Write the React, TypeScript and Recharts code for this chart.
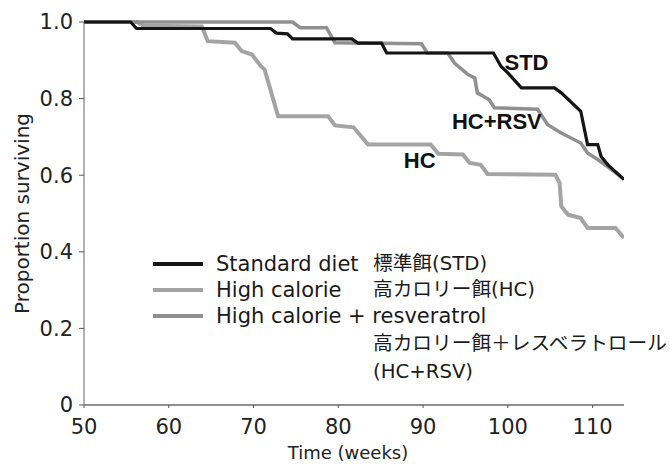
import React from 'react'
import { LineChart, Line, XAxis, YAxis, Legend, ReferenceDot, Label } from 'recharts'

// Kaplan-Meier curves: [week, proportion surviving]
const stdCurve: [number, number][] = [
  [50, 1.0], [55.5, 1.0], [56.2, 0.983], [72.0, 0.983], [72.7, 0.971], [74.0, 0.969],
  [74.6, 0.956], [81.6, 0.956], [82.3, 0.945], [85.1, 0.945], [85.7, 0.919], [98.3, 0.919],
  [99.2, 0.884], [100.0, 0.867], [101.6, 0.828], [105.5, 0.828], [106.3, 0.815],
  [108.6, 0.767], [109.4, 0.68], [110.6, 0.68], [111.0, 0.649], [111.8, 0.627], [113.7, 0.589],
]
const hcCurve: [number, number][] = [
  [50, 1.0], [56.3, 1.0], [57.0, 0.99], [63.9, 0.988], [64.6, 0.95], [67.8, 0.946],
  [68.6, 0.924], [69.8, 0.915], [70.9, 0.884], [71.3, 0.876], [72.1, 0.815], [72.9, 0.754],
  [78.8, 0.754], [79.6, 0.73], [81.8, 0.725], [83.5, 0.68], [90.9, 0.68], [91.8, 0.656],
  [94.7, 0.654], [95.5, 0.632], [96.8, 0.627], [97.6, 0.603], [105.6, 0.601], [106.1, 0.58],
  [106.3, 0.519], [107.1, 0.497], [108.6, 0.488], [109.4, 0.462], [112.7, 0.462], [113.7, 0.436],
]
const rsvCurve: [number, number][] = [
  [50, 1.0], [74.6, 1.0], [75.5, 0.985], [78.6, 0.985], [79.6, 0.946], [89.8, 0.943],
  [90.5, 0.919], [92.9, 0.919], [93.7, 0.893], [95.3, 0.863], [96.1, 0.854], [96.4, 0.815],
  [97.8, 0.797], [98.4, 0.776], [103.5, 0.772], [104.7, 0.732], [106.3, 0.71], [108.6, 0.684],
  [109.4, 0.658], [110.6, 0.641], [112.2, 0.615], [113.7, 0.589],
]

const weekTicks = [50, 60, 70, 80, 90, 100, 110]
const survivalTicks = [0, 0.2, 0.4, 0.6, 0.8, 1.0]

const legendNames = ['Standard diet', 'High calorie', 'High calorie + resveratrol']
const legendJapanese = ['標準餌(STD)', '高カロリー餌(HC)', '高カロリー餌＋レスベラトロール', '(HC+RSV)']
const legendColors = ['#151515', '#a4a4a4', '#909090']

// curve labels: [text, week, proportion]
const curveLabels: [string, number, number][] = [
  ['STD', 102.2, 0.895],
  ['HC+RSV', 98.7, 0.74],
  ['HC', 89.6, 0.638],
]

const toRows = (c: [number, number][]) => c.map(([w, p]) => ({ w, p }))

const latin = '"DejaVu Sans", sans-serif'
const mixed = '"DejaVu Sans", "Noto Sans CJK JP", sans-serif'

function LegendBox() {
  const rowTop = [1, 27, 53]
  return (
    <div style={{ position: 'relative', width: 520, height: 140, color: '#1a1a1a' }}>
      {legendNames.map((name, i) => (
        <React.Fragment key={name}>
          <div style={{ position: 'absolute', left: 3, top: rowTop[i] + 11, width: 50, height: 4, background: legendColors[i] }} />
          <div style={{ position: 'absolute', left: 66, top: rowTop[i], lineHeight: '26px', fontSize: 21, fontFamily: latin, whiteSpace: 'nowrap' }}>
            {name}
          </div>
        </React.Fragment>
      ))}
      {legendJapanese.map((t, i) => (
        <div key={t} style={{ position: 'absolute', left: 223, top: [1, 27, 81, 109][i], lineHeight: '26px', fontSize: 19.7, fontFamily: mixed, whiteSpace: 'nowrap' }}>
          {t}
        </div>
      ))}
    </div>
  )
}

export default function App() {
  return (
    <div style={{ position: 'absolute', left: 0, top: 0, background: '#fff' }}>
      <LineChart width={670} height={464} margin={{ top: 22, right: 46, bottom: 0, left: 0 }}>
        <XAxis
          dataKey="w" type="number" domain={[50, 113.7]} ticks={weekTicks} allowDataOverflow
          axisLine={{ stroke: '#222', strokeWidth: 1.2 }} tickLine={{ stroke: '#555' }} tickSize={3} tickMargin={11}
          height={59} tick={{ fill: '#222', fontSize: 21, fontFamily: latin }}
        >
          <Label
            content={({ viewBox }: any) => (
              <text x={viewBox.x + viewBox.width / 2 - 6} y={viewBox.y + 54} textAnchor="middle" fill="#222" fontSize={18} fontFamily={latin}>
                Time (weeks)
              </text>
            )}
          />
        </XAxis>
        <YAxis
          type="number" domain={[0, 1]} ticks={survivalTicks} width={84}
          tickFormatter={(v: number) => (v === 0 ? '0' : v.toFixed(1))}
          axisLine={{ stroke: '#666', strokeWidth: 1 }} tickLine={{ stroke: '#555' }} tickSize={5} tickMargin={6}
          tick={{ fill: '#222', fontSize: 21, fontFamily: latin }}
        >
          <Label
            content={({ viewBox }: any) => {
              const x = viewBox.x + 22
              const y = viewBox.y + viewBox.height / 2
              return (
                <text x={x} y={y} transform={`rotate(-90, ${x}, ${y})`} textAnchor="middle" dominantBaseline="central" fill="#222" fontSize={20} fontFamily={latin}>
                  Proportion surviving
                </text>
              )
            }}
          />
        </YAxis>
        <Legend verticalAlign="middle" layout="horizontal" content={() => <LegendBox />} wrapperStyle={{ left: 150, top: 250, width: 520 }} />
        <Line data={toRows(hcCurve)} dataKey="p" name={legendNames[1]} type="linear" stroke={legendColors[1]} strokeWidth={4} dot={false} isAnimationActive={false} />
        <Line data={toRows(rsvCurve)} dataKey="p" name={legendNames[2]} type="linear" stroke={legendColors[2]} strokeWidth={3.5} dot={false} isAnimationActive={false} />
        <Line data={toRows(stdCurve)} dataKey="p" name={legendNames[0]} type="linear" stroke={legendColors[0]} strokeWidth={3.2} dot={false} isAnimationActive={false} />
        {curveLabels.map(([text, w, p]) => (
          <ReferenceDot key={text} x={w} y={p} r={0} fill="none" stroke="none"
            label={{ value: text, position: 'center', fill: '#111', fontSize: 22, fontWeight: 'bold', fontFamily: '"Liberation Sans", Arial, sans-serif' }} />
        ))}
      </LineChart>
    </div>
  )
}
